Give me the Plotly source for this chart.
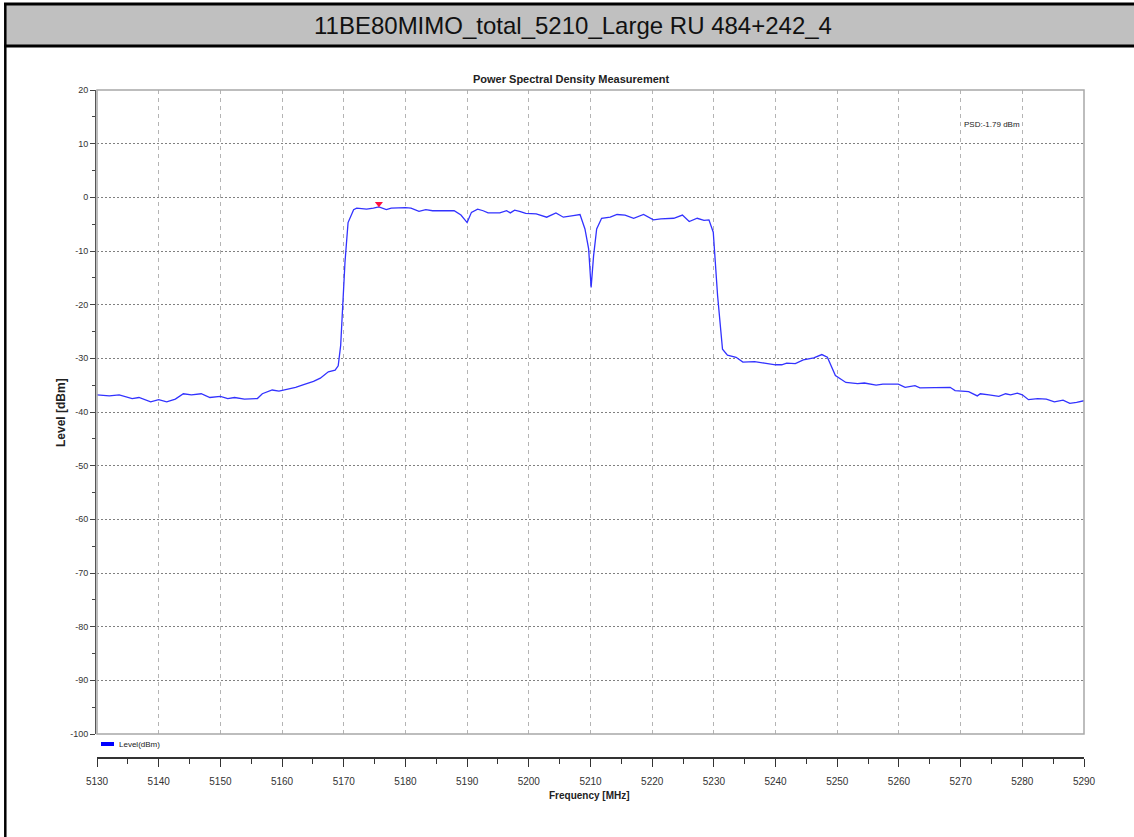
import plotly.graph_objects as go

# spectrum trace
freq_mhz = [5130.0, 5132.0, 5133.6, 5135.7, 5136.8, 5138.7, 5140.0, 5141.3, 5142.7, 5144.0,
            5145.3, 5146.9, 5148.3, 5150.0, 5151.2, 5152.3, 5153.9, 5156.0, 5156.8, 5158.4,
            5159.5, 5160.9, 5162.2, 5163.5, 5165.1, 5166.2, 5167.5, 5168.6, 5169.1, 5169.5,
            5169.8, 5170.2, 5170.7, 5171.6, 5172.1, 5173.7, 5174.8, 5175.7, 5176.9, 5177.7,
            5180.0, 5180.9, 5182.2, 5183.3, 5184.4, 5186.6, 5187.9, 5189.0, 5190.0, 5190.7,
            5191.7, 5192.6, 5193.4, 5195.3, 5196.4, 5197.0, 5197.7, 5198.5, 5199.5, 5201.2,
            5202.9, 5204.4, 5205.6, 5207.2, 5208.3, 5209.1, 5209.7, 5210.1, 5210.5, 5211.0,
            5211.8, 5213.2, 5214.3, 5215.6, 5217.0, 5218.6, 5220.2, 5221.4, 5222.4, 5223.5,
            5224.9, 5226.0, 5227.3, 5228.4, 5229.2, 5229.9, 5230.6, 5231.4, 5232.2, 5233.6,
            5234.7, 5236.6, 5238.2, 5240.0, 5241.0, 5241.8, 5243.2, 5244.5, 5246.2, 5247.5,
            5248.4, 5249.7, 5251.4, 5253.3, 5254.4, 5256.3, 5257.4, 5259.9, 5261.0, 5262.6,
            5263.4, 5265.9, 5268.3, 5269.1, 5271.3, 5272.7, 5273.2, 5274.6, 5276.2, 5277.3,
            5278.1, 5279.2, 5280.0, 5281.0, 5282.5, 5283.9, 5285.2, 5286.6, 5287.7, 5288.8,
            5290.0]
level_dbm = [-36.8, -37.0, -36.8, -37.5, -37.3, -38.1, -37.7, -38.1, -37.6, -36.6,
             -36.8, -36.6, -37.3, -37.1, -37.5, -37.3, -37.6, -37.5, -36.6, -35.9,
             -36.1, -35.8, -35.4, -34.9, -34.3, -33.7, -32.5, -32.2, -31.4, -27.6,
             -19.6, -12.1, -4.7, -2.3, -2.0, -2.2, -2.0, -1.79, -2.3, -2.0,
             -1.9, -2.0, -2.6, -2.3, -2.5, -2.5, -2.5, -3.3, -4.7, -2.8,
             -2.2, -2.5, -2.9, -2.9, -2.5, -2.9, -2.4, -2.6, -3.0, -3.1,
             -3.7, -2.9, -3.7, -3.4, -3.2, -5.9, -9.6, -16.8, -10.9, -5.9,
             -3.9, -3.7, -3.2, -3.3, -3.9, -3.2, -4.2, -4.0, -3.9, -3.9,
             -3.3, -4.5, -3.9, -4.3, -4.2, -6.5, -18.3, -28.3, -29.4, -29.8,
             -30.7, -30.6, -30.9, -31.2, -31.2, -30.9, -31.0, -30.3, -29.9, -29.3,
             -29.8, -33.2, -34.5, -34.7, -34.6, -35.0, -34.8, -34.8, -35.4, -35.1,
             -35.5, -35.4, -35.4, -36.0, -36.2, -37.0, -36.6, -36.8, -37.1, -36.6,
             -36.8, -36.5, -36.8, -37.7, -37.5, -37.6, -38.1, -37.8, -38.4, -38.2,
             -37.9]

# peak marker (drawn just above the trace)
marker_freq = [5175.7]
marker_level = [-1.2]
psd_text = "PSD:-1.79 dBm"

x_ticks = list(range(5130, 5291, 10))
x_tick_labels = [str(v) for v in x_ticks]
y_ticks = list(range(-100, 21, 10))
y_tick_labels = [str(v) for v in y_ticks]

SANS = "Liberation Sans, Arial, sans-serif"

W, H = 1134, 837
L, R, T, B = 95, 1084, 90, 758   # plot area in pixels


def px(x):
    return (x - L) / (R - L)


def py(y):
    return (B - y) / (B - T)


fig = go.Figure()
fig.add_trace(go.Scatter(x=freq_mhz, y=level_dbm, mode="lines", name="Level(dBm)",
                         line=dict(color="#3232ff", width=1.3), showlegend=False))
fig.add_trace(go.Scatter(x=marker_freq, y=marker_level, mode="markers", showlegend=False,
                         marker=dict(symbol="triangle-down", size=7, color="#ff1040")))

shapes = [
    # header band
    dict(type="rect", xref="paper", yref="paper", x0=px(5), x1=px(1140), y0=py(46), y1=py(4),
         fillcolor="#c0c0c0", line=dict(width=0), layer="below"),
    dict(type="line", xref="paper", yref="paper", x0=px(4), x1=px(1140), y0=py(4), y1=py(4),
         line=dict(color="black", width=3)),
    dict(type="line", xref="paper", yref="paper", x0=px(4), x1=px(1140), y0=py(46), y1=py(46),
         line=dict(color="black", width=3)),
    dict(type="line", xref="paper", yref="paper", x0=px(5.3), x1=px(5.3), y0=py(3), y1=py(840),
         line=dict(color="black", width=2.5)),
    # plot frame
    dict(type="rect", xref="x domain", yref="y domain", x0=0, x1=1, y0=0, y1=1,
         line=dict(color="#a8a8a8", width=1.5)),
    # legend swatch
    dict(type="line", xref="paper", yref="paper", x0=px(101), x1=px(114), y0=py(744), y1=py(744),
         line=dict(color="#0000ff", width=4)),
]

annotations = [
    dict(text="11BE80MIMO_total_5210_Large RU 484+242_4", xref="paper", yref="paper",
         x=px(573), y=py(26), showarrow=False, xanchor="center", yanchor="middle",
         font=dict(family=SANS, size=24, color="#111")),
    dict(text="<b>Power Spectral Density Measurement</b>", xref="paper", yref="paper",
         x=px(571), y=py(79), showarrow=False, xanchor="center", yanchor="middle",
         font=dict(family=SANS, size=11, color="#222")),
    dict(text="<b>Level [dBm]</b>", xref="paper", yref="paper", x=px(61), y=py(413),
         textangle=-90, showarrow=False, xanchor="center", yanchor="middle",
         font=dict(family=SANS, size=12, color="#222")),
    dict(text="<b>Frequency [MHz]</b>", xref="paper", yref="paper", x=px(589), y=py(795),
         showarrow=False, xanchor="center", yanchor="middle",
         font=dict(family=SANS, size=10, color="#222")),
    dict(text=psd_text, xref="paper", yref="paper", x=px(962), y=py(124),
         showarrow=False, xanchor="left", yanchor="middle",
         font=dict(family=SANS, size=8, color="#222")),
    dict(text="Level(dBm)", xref="paper", yref="paper", x=px(117), y=py(744),
         showarrow=False, xanchor="left", yanchor="middle",
         font=dict(family=SANS, size=8, color="#222")),
]

fig.update_layout(
    width=W, height=H,
    margin=dict(l=L, r=W - R, t=T, b=H - B, pad=0),
    paper_bgcolor="white", plot_bgcolor="white",
    showlegend=False,
    shapes=shapes, annotations=annotations,
    xaxis=dict(range=[5130, 5290], domain=[2 / (R - L), 1], anchor="free", position=0,
               tickmode="array", tickvals=x_ticks, ticktext=x_tick_labels,
               ticks="outside", ticklen=8, tickcolor="#333", tickwidth=1, ticklabelstandoff=6,
               minor=dict(dtick=5, ticks="outside", ticklen=5, tickcolor="#333", showgrid=False),
               showline=True, linecolor="#333", linewidth=1.5,
               showgrid=True, gridcolor="#b4b4b4", griddash="4px,4px", gridwidth=1,
               zeroline=False, tickfont=dict(family=SANS, size=10, color="#333")),
    yaxis=dict(range=[-100, 20], domain=[(B - 734) / (B - T), 1], anchor="free", position=0,
               tickmode="array", tickvals=y_ticks, ticktext=y_tick_labels,
               ticks="outside", ticklen=5, tickcolor="#444", tickwidth=1,
               minor=dict(dtick=5, ticks="outside", ticklen=3, tickcolor="#444", showgrid=False),
               showline=True, linecolor="#555", linewidth=1,
               showgrid=True, gridcolor="#808080", griddash="2px,2px", gridwidth=1,
               zeroline=False, tickfont=dict(family=SANS, size=9, color="#333")),
)

# the page's default body margin would push the figure 8px right/down
fig.write_html("out.html", config={"displayModeBar": False},
               post_script="document.body.style.margin = '0';")
